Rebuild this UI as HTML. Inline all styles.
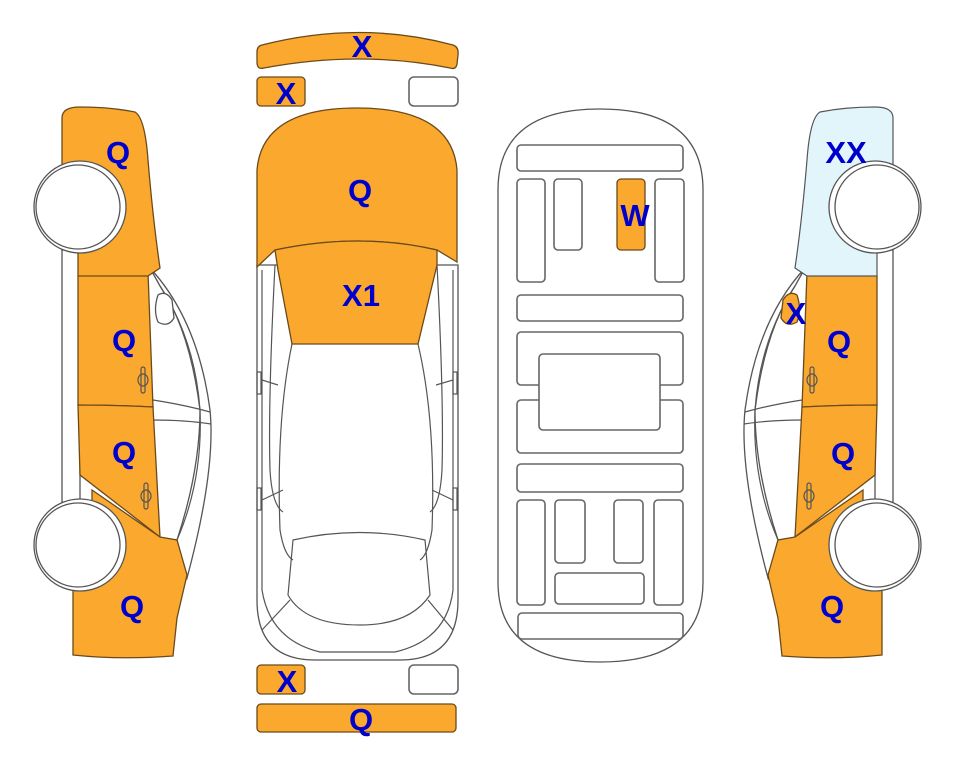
<!DOCTYPE html>
<html><head><meta charset="utf-8"><style>
html,body{margin:0;padding:0;background:#fff;width:963px;height:768px;overflow:hidden}
svg{display:block}
text{font-family:"Liberation Sans",sans-serif;font-weight:bold;font-size:31px;fill:#0000CC;text-anchor:middle}
.o{fill:#FBA82F;stroke:#6b4a1a;stroke-width:1.3}
.w{fill:#fff;stroke:#555;stroke-width:1.3}
.g{fill:#fff;stroke:#666;stroke-width:1.6}
.l{fill:none;stroke:#555;stroke-width:1.2}
.b{fill:#E2F5FB;stroke:#555;stroke-width:1.2}
</style></head><body>
<svg width="963" height="768" viewBox="0 0 963 768" xmlns="http://www.w3.org/2000/svg">

<!-- LEFT CAR -->
<g>
  <path class="w" d="M150,268 Q198,320 210,410 Q216,470 187,578 L177,540 Q200,470 200,410 Q190,330 160,286 Z"/>
  <path class="l" d="M153,400 Q185,405 210,412 M153,420 Q185,420 211,424"/>
  <path class="l" d="M160,286 Q195,340 200,410 Q203,480 177,540"/>
  <rect class="w" x="62" y="245" width="18" height="258"/>
  <path class="o" d="M78,276 Q115,272 148,272 L153,407 Q115,405 78,405 Z"/>
  <path class="o" d="M78,405 Q115,405 153,407 L160,537 L80,475 Z"/>
  <path class="o" d="M92,490 L160,537 L177,540 L187,575 L177,618 L173,656 Q120,660 73,655 L73,590 Q90,590 92,560 Z"/>
  <path class="o" d="M62,118 Q62,107 80,107 Q110,107 135,112 Q145,118 148,160 Q153,220 160,268 L148,276 Q110,276 78,276 L78,250 L62,250 Z"/>
  <path class="w" d="M158,295 Q166,290 172,300 L174,318 Q168,328 158,322 Q153,310 158,295 Z"/>
  <ellipse class="l" cx="143" cy="380" rx="5" ry="6"/><rect class="l" x="141" y="367" width="4" height="26" rx="2"/>
  <ellipse class="l" cx="146" cy="496" rx="5" ry="6"/><rect class="l" x="144" y="483" width="4" height="26" rx="2"/>
  <circle class="w" cx="80" cy="207" r="46"/><circle class="w" cx="78" cy="207" r="42"/>
  <circle class="w" cx="80" cy="545" r="46"/><circle class="w" cx="78" cy="545" r="42"/>
</g>

<!-- RIGHT CAR (mirrored) -->
<g transform="translate(955,0) scale(-1,1)">
  <path class="w" d="M150,268 Q198,320 210,410 Q216,470 187,578 L177,540 Q200,470 200,410 Q190,330 160,286 Z"/>
  <path class="l" d="M153,400 Q185,405 210,412 M153,420 Q185,420 211,424"/>
  <path class="l" d="M160,286 Q195,340 200,410 Q203,480 177,540"/>
  <rect class="w" x="62" y="245" width="18" height="258"/>
  <path class="o" d="M78,276 Q115,272 148,272 L153,407 Q115,405 78,405 Z"/>
  <path class="o" d="M78,405 Q115,405 153,407 L160,537 L80,475 Z"/>
  <path class="o" d="M92,490 L160,537 L177,540 L187,575 L177,618 L173,656 Q120,660 73,655 L73,590 Q90,590 92,560 Z"/>
  <path class="b" d="M62,118 Q62,107 80,107 Q110,107 135,112 Q145,118 148,160 Q153,220 160,268 L148,276 Q110,276 78,276 L78,250 L62,250 Z"/>
  <path class="o" d="M158,295 Q166,290 172,300 L174,318 Q168,328 158,322 Q153,310 158,295 Z"/>
  <ellipse class="l" cx="143" cy="380" rx="5" ry="6"/><rect class="l" x="141" y="367" width="4" height="26" rx="2"/>
  <ellipse class="l" cx="146" cy="496" rx="5" ry="6"/><rect class="l" x="144" y="483" width="4" height="26" rx="2"/>
  <circle class="w" cx="80" cy="207" r="46"/><circle class="w" cx="78" cy="207" r="42"/>
  <circle class="w" cx="80" cy="545" r="46"/><circle class="w" cx="78" cy="545" r="42"/>
</g>

<!-- center top view -->
<path class="o" d="M262,45 Q360,20 453,45 Q459,47 458,55 L457,64 Q456,70 450,68 Q360,50 264,68 Q257,70 257,62 L257,52 Q257,46 262,45 Z"/>
<rect class="o" x="257" y="77" width="48" height="29" rx="4"/>
<rect class="g" x="409" y="77" width="49" height="29" rx="5"/>
<path class="w" d="M257,265 L257,600 Q257,660 315,660 L400,660 Q458,660 458,600 L458,265 Z"/>
<path class="l" d="M262,270 L262,590 Q270,640 320,652 L395,652 Q447,640 453,590 L453,270"/>
<path class="l" d="M292,344 Q276,420 280,530 Q284,555 293,560 M418,344 Q436,420 432,530 Q428,555 420,560"/>
<path class="l" d="M275,265 Q268,400 270,470 Q272,505 283,512 M437,265 Q444,400 442,470 Q440,505 430,512"/>
<path class="l" d="M293,540 Q360,525 425,540 L430,595 Q410,625 360,625 Q305,625 288,595 Z"/>
<path class="l" d="M262,630 L290,600 M453,630 L428,600 M262,500 L283,490 M453,500 L432,490 M262,380 L278,385 M453,380 L436,385"/>
<rect class="l" x="257" y="372" width="4" height="22"/><rect class="l" x="453" y="372" width="4" height="22"/>
<rect class="l" x="257" y="488" width="4" height="22"/><rect class="l" x="453" y="488" width="4" height="22"/>
<path class="o" d="M257,267 L257,170 Q262,108 357,108 Q452,108 457,170 L457,262 L437,250 Q360,232 275,250 Z"/>
<path class="o" d="M275,250 Q360,232 437,250 L437,265 L418,344 L292,344 L278,270 Z"/>
<rect class="o" x="257" y="665" width="48" height="29" rx="4"/>
<rect class="g" x="409" y="665" width="49" height="29" rx="5"/>
<rect class="o" x="257" y="704" width="199" height="28" rx="4"/>

<!-- interior view -->
<path class="w" d="M498,190 Q498,109 600,109 Q703,109 703,190 L703,582 Q703,662 600,662 Q498,662 498,582 Z"/>
<g class="g">
<rect x="517" y="145" width="166" height="26" rx="4"/>
<rect x="517" y="179" width="28" height="103" rx="4"/>
<rect x="554" y="179" width="28" height="71" rx="4"/>
<rect x="655" y="179" width="29" height="103" rx="4"/>
<rect x="517" y="295" width="166" height="26" rx="4"/>
<rect x="517" y="332" width="166" height="53" rx="4"/>
<rect x="517" y="400" width="166" height="53" rx="4"/>
<rect x="539" y="354" width="121" height="76" rx="4"/>
<rect x="517" y="464" width="166" height="28" rx="4"/>
<rect x="517" y="500" width="28" height="105" rx="4"/>
<rect x="555" y="500" width="30" height="63" rx="4"/>
<rect x="614" y="500" width="29" height="63" rx="4"/>
<rect x="654" y="500" width="29" height="105" rx="4"/>
<rect x="555" y="573" width="89" height="31" rx="4"/>
<rect x="518" y="613" width="165" height="26" rx="4"/>
</g>
<rect class="o" x="617" y="179" width="28" height="71" rx="4"/>

<!-- labels -->
<text x="118" y="163">Q</text>
<text x="124" y="351">Q</text>
<text x="124" y="463">Q</text>
<text x="132" y="617">Q</text>
<text x="362" y="57">X</text>
<text x="286" y="104">X</text>
<text x="360" y="201">Q</text>
<text x="361" y="306">X1</text>
<text x="635" y="226">W</text>
<text x="287" y="692">X</text>
<text x="361" y="730">Q</text>
<text x="846" y="163">XX</text>
<text x="796" y="324">X</text>
<text x="839" y="352">Q</text>
<text x="843" y="464">Q</text>
<text x="832" y="617">Q</text>
</svg>
</body></html>
